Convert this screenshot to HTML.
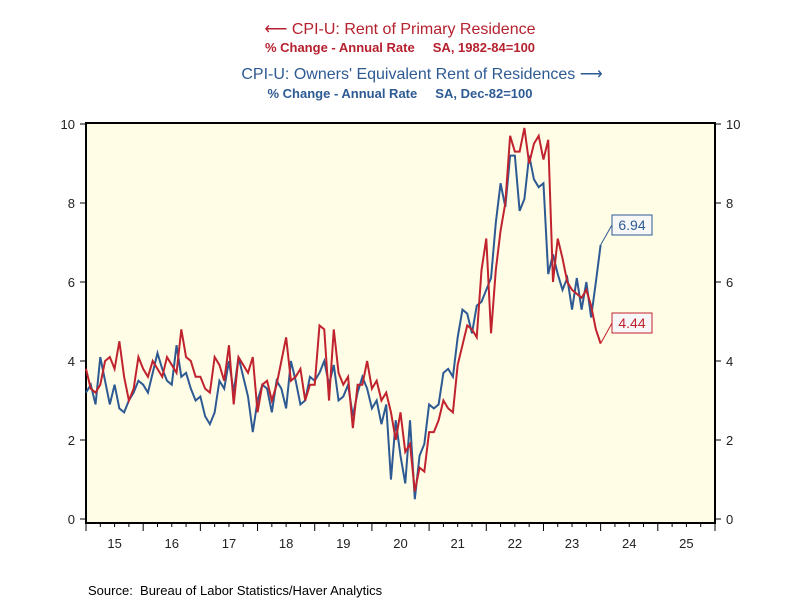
<!DOCTYPE html>
<html><head><meta charset="utf-8"><style>
body{margin:0;background:#fff;font-family:"Liberation Sans",sans-serif}
svg text{font-family:"Liberation Sans",sans-serif;white-space:pre}
</style></head><body>
<svg width="800" height="600" xmlns="http://www.w3.org/2000/svg">
<g id="titles">
<text x="400" y="34" text-anchor="middle" font-size="16" fill="#b5212e">⟵ CPI-U: Rent of Primary Residence</text>
<text x="400" y="52" text-anchor="middle" font-size="13" font-weight="bold" fill="#b5212e">% Change - Annual Rate     SA, 1982-84=100</text>
<text x="422" y="79" text-anchor="middle" font-size="16" fill="#2e5a93">CPI-U: Owners' Equivalent Rent of Residences ⟶</text>
<text x="400" y="98" text-anchor="middle" font-size="13" font-weight="bold" fill="#2e5a93">% Change - Annual Rate     SA, Dec-82=100</text>
</g>
<rect x="86" y="123" width="629" height="400" fill="#fffde6"/>
<g id="axes"></g>
<g id="series"></g>
<text x="88" y="595" font-size="13" fill="#000">Source:  Bureau of Labor Statistics/Haver Analytics</text>
</svg>
<script>
const years=["15","16","17","18","19","20","21","22","23","24","25"];
const yTicks=[0,2,4,6,8,10];
const rent=[3.8,3.3,3.2,3.4,4.0,4.1,3.8,4.5,3.6,
3.0,3.3,4.1,3.8,3.6,4.0,3.8,3.6,4.1,3.9,3.7,4.8,
4.1,4.0,3.6,3.6,3.3,3.2,4.1,3.9,3.5,4.4,2.9,4.1,
3.9,3.7,4.1,2.7,3.4,3.5,3.0,3.4,4.0,4.6,3.5,3.6,
3.8,3.0,3.4,3.4,4.9,4.8,3.0,4.8,3.7,3.4,3.6,2.3,
3.4,3.4,4.0,3.3,3.5,3.0,3.2,2.7,2.0,2.7,1.7,1.9,
0.7,1.3,1.2,2.2,2.2,2.5,3.0,2.8,2.7,3.9,4.4,4.9,
4.8,4.6,6.3,7.1,4.7,6.3,7.3,8.0,9.7,9.3,9.3,9.9,
9.0,9.5,9.7,9.1,9.6,6.0,7.1,6.6,6.0,5.8,5.7,5.6,
5.8,5.4,4.8,4.44];
const oer=[3.2,3.4,2.9,4.1,3.5,2.9,3.4,2.8,2.7,
3.0,3.2,3.5,3.4,3.2,3.7,4.2,3.8,3.5,3.4,4.4,3.6,
3.7,3.3,3.0,3.1,2.6,2.4,2.7,3.5,3.3,4.0,3.2,4.1,
3.6,3.1,2.2,3.0,3.4,3.3,2.7,3.5,3.3,2.8,4.0,3.5,
2.9,3.0,3.6,3.5,3.7,4.0,3.4,3.9,3.0,3.1,3.4,2.6,
3.2,3.6,3.3,2.8,3.0,2.4,2.9,1.0,2.5,1.6,0.9,2.5,
0.5,1.6,1.9,2.9,2.8,2.9,3.7,3.8,3.6,4.6,5.3,5.2,
4.7,5.4,5.5,5.8,6.1,7.5,8.5,7.9,9.2,9.2,7.8,8.1,
9.2,8.6,8.4,8.5,6.2,6.7,6.2,5.8,6.1,5.3,6.1,5.3,
6.0,5.1,6.0,6.94];
const NS="http://www.w3.org/2000/svg";
const X0=86,X1=715,Y0=519,Y10=124;
const xm=i=>X0+i*(X1-X0)/132;
const yv=v=>Y0+(Y10-Y0)*v/10;
function mk(t,a,p){const e=document.createElementNS(NS,t);for(const k in a)e.setAttribute(k,a[k]);p.appendChild(e);return e;}
const ax=document.getElementById('axes'),se=document.getElementById('series');
const fr=mk('rect',{x:86,y:123,width:629,height:400,fill:'none',stroke:'#000','stroke-width':2},ax);


yTicks.forEach(v=>{
 mk('line',{x1:80,x2:86,y1:yv(v),y2:yv(v),stroke:'#000'},ax);
 mk('line',{x1:715,x2:721,y1:yv(v),y2:yv(v),stroke:'#000'},ax);
 const l=mk('text',{x:75,y:yv(v)+5,'text-anchor':'end','font-size':13,fill:'#222'},ax);l.textContent=v;
 
 
 const r=mk('text',{x:726,y:yv(v)+5,'font-size':13,fill:'#222'},ax);r.textContent=v;
 
 
});
for(let q=0;q<=44;q++){const x=X0+q*(X1-X0)/44;mk('line',{x1:x,x2:x,y1:523,y2:q%4==0?531:527,stroke:'#000'},ax);}
years.forEach((y,k)=>{const t=mk('text',{x:xm(k*12+6),y:548,'text-anchor':'middle','font-size':13,fill:'#222'},ax);t.textContent=y;
 
 });
function line(d,c,n){const p=mk('polyline',{points:d.map((v,i)=>xm(i)+','+yv(v)).join(' '),fill:'none',stroke:c,'stroke-width':2},se);
 
 }
line(oer,'#2e5a93','oer-line');
line(rent,'#c0222e','rent-line');
function lab(d,c,by,n){const i=d.length-1,x=xm(i),y=yv(d[i]);
 mk('line',{x1:x,y1:y,x2:612,y2:by+10,stroke:c},se);
 const r=mk('rect',{x:612,y:by,width:40,height:20,fill:'#f7f7f7',stroke:c},se);
 
 
 const t=mk('text',{x:632,y:by+15,'text-anchor':'middle','font-size':14,fill:c},se);t.textContent=d[i].toFixed(2);
 
 }
lab(oer,'#2e5a93',215,'oer-last-value');
lab(rent,'#c0222e',313,'rent-last-value');
</script>
</body></html>
